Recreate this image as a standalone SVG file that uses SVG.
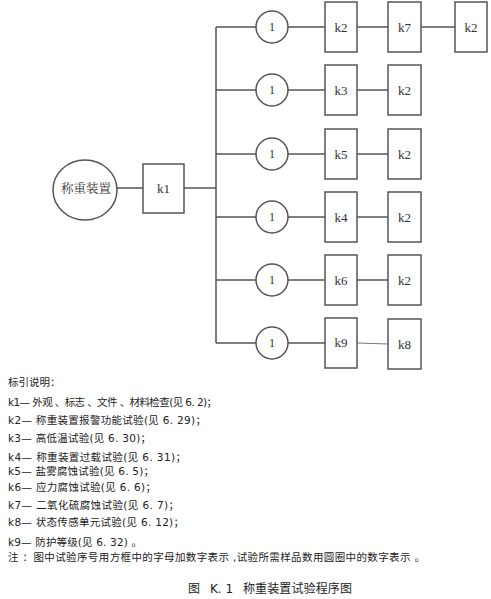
<svg xmlns="http://www.w3.org/2000/svg" width="491" height="599" viewBox="0 0 491 599">
<style>
.ln{stroke:#555;stroke-width:1.5;fill:none}
.bx{fill:#fff;stroke:#555;stroke-width:1.5}
.lb{font-family:"Liberation Serif","Noto Serif CJK SC","Noto Sans CJK SC",serif;font-size:13px;fill:#333;text-anchor:middle;dominant-baseline:central}
.one{font-family:"Liberation Serif",serif;font-size:12px;fill:#333;text-anchor:middle;dominant-baseline:central}
.tx{font-family:"DejaVu Sans","Noto Sans CJK SC",sans-serif;font-size:10.5px;fill:#222}
.cap{font-family:"DejaVu Sans","Noto Sans CJK SC",sans-serif;font-size:12px;fill:#222}
</style>
<rect width="491" height="599" fill="#fff"/>
<g id="connectors">
<line class="ln" x1="117" y1="188" x2="143" y2="188"/>
<line class="ln" x1="184" y1="188" x2="216" y2="188"/>
<line class="ln" x1="216" y1="27" x2="216" y2="343"/>
<line class="ln" x1="216" y1="27" x2="256" y2="27"/>
<line class="ln" x1="216" y1="90" x2="256" y2="90"/>
<line class="ln" x1="216" y1="154" x2="256" y2="154"/>
<line class="ln" x1="216" y1="217" x2="256" y2="217"/>
<line class="ln" x1="216" y1="280" x2="256" y2="280"/>
<line class="ln" x1="216" y1="343" x2="256" y2="343"/>
<line class="ln" x1="288" y1="27" x2="325" y2="27"/>
<line class="ln" x1="288" y1="90" x2="325" y2="90"/>
<line class="ln" x1="288" y1="154" x2="325" y2="154"/>
<line class="ln" x1="288" y1="217" x2="325" y2="217"/>
<line class="ln" x1="288" y1="280" x2="325" y2="280"/>
<line class="ln" x1="288" y1="343" x2="325" y2="343"/>
<line class="ln" x1="357" y1="27" x2="388" y2="27"/>
<line class="ln" x1="421" y1="27" x2="455" y2="27"/>
<line class="ln" x1="357" y1="90" x2="388" y2="90"/>
<line class="ln" x1="357" y1="154" x2="388" y2="154"/>
<line class="ln" x1="357" y1="217" x2="388" y2="217"/>
<line class="ln" x1="357" y1="280" x2="388" y2="280"/>
<line x1="357" y1="343" x2="388" y2="344" stroke="#777" stroke-width="1"/>
</g>
<g id="device"><ellipse class="bx" cx="85" cy="190" rx="32" ry="30"/><text class="lb" x="86" y="189" style="font-size:12.5px">称重装置</text></g>
<g id="k1"><rect class="bx" x="143" y="164" width="41" height="49"/><text class="lb" x="163.5" y="188">k1</text></g>
<g id="c1"><circle class="bx" cx="272" cy="27" r="16"/><text class="one" x="272" y="27">1</text></g>
<g id="c2"><circle class="bx" cx="272" cy="90" r="16"/><text class="one" x="272" y="90">1</text></g>
<g id="c3"><circle class="bx" cx="272" cy="154" r="16"/><text class="one" x="272" y="154">1</text></g>
<g id="c4"><circle class="bx" cx="272" cy="217" r="16"/><text class="one" x="272" y="217">1</text></g>
<g id="c5"><circle class="bx" cx="272" cy="280" r="16"/><text class="one" x="272" y="280">1</text></g>
<g id="c6"><circle class="bx" cx="272" cy="343" r="16"/><text class="one" x="272" y="343">1</text></g>
<g id="r1k2"><rect class="bx" x="325" y="2" width="32" height="50"/><text class="lb" x="341" y="27">k2</text></g>
<g id="r1k7"><rect class="bx" x="388" y="2" width="33" height="50"/><text class="lb" x="404.5" y="27">k7</text></g>
<g id="r1k2b"><rect class="bx" x="455" y="2" width="32" height="50"/><text class="lb" x="471" y="27">k2</text></g>
<g id="r2k3"><rect class="bx" x="325" y="65" width="32" height="50"/><text class="lb" x="341" y="90">k3</text></g>
<g id="r2k2"><rect class="bx" x="388" y="65" width="33" height="50"/><text class="lb" x="404.5" y="90">k2</text></g>
<g id="r3k5"><rect class="bx" x="325" y="129" width="32" height="50"/><text class="lb" x="341" y="154">k5</text></g>
<g id="r3k2"><rect class="bx" x="388" y="129" width="33" height="50"/><text class="lb" x="404.5" y="154">k2</text></g>
<g id="r4k4"><rect class="bx" x="325" y="192" width="32" height="50"/><text class="lb" x="341" y="217">k4</text></g>
<g id="r4k2"><rect class="bx" x="388" y="192" width="33" height="50"/><text class="lb" x="404.5" y="217">k2</text></g>
<g id="r5k6"><rect class="bx" x="325" y="255" width="32" height="50"/><text class="lb" x="341" y="280">k6</text></g>
<g id="r5k2"><rect class="bx" x="388" y="255" width="33" height="50"/><text class="lb" x="404.5" y="280">k2</text></g>
<g id="r6k9"><rect class="bx" x="325" y="318" width="32" height="50"/><text class="lb" x="341" y="342">k9</text></g>
<g id="r6k8"><rect class="bx" x="388" y="319" width="33" height="50"/><text class="lb" x="404.5" y="344">k8</text></g>
<g id="legend">
<text class="tx" x="8" y="386">标引说明：</text>
<text class="tx" x="8" y="406" textLength="209">k1— 外观 、标志 、文件 、材料检查(见 6. 2)；</text>
<text class="tx" x="8" y="424" textLength="198">k2— 称重装置报警功能试验(见 6. 29)；</text>
<text class="tx" x="8" y="442" textLength="143">k3— 高低温试验(见 6. 30)；</text>
<text class="tx" x="8" y="461" textLength="178">k4— 称重装置过载试验(见 6. 31)；</text>
<text class="tx" x="8" y="475" textLength="146">k5— 盐雾腐蚀试验(见 6. 5)；</text>
<text class="tx" x="8" y="491" textLength="148">k6— 应力腐蚀试验(见 6. 6)；</text>
<text class="tx" x="8" y="509" textLength="171">k7— 二氧化硫腐蚀试验(见 6. 7)；</text>
<text class="tx" x="8" y="526" textLength="176">k8— 状态传感单元试验(见 6. 12)；</text>
<text class="tx" x="8" y="546" textLength="134">k9— 防护等级(见 6. 32) 。</text>
<text class="tx" x="8" y="561" textLength="417">注 ：图中试验序号用方框中的字母加数字表示 ,试验所需样品数用圆圈中的数字表示 。</text>
<text class="cap" y="593"><tspan x="188">图</tspan><tspan x="210">K. 1</tspan><tspan x="243" textLength="109">称重装置试验程序图</tspan></text>
</g>
</svg>
